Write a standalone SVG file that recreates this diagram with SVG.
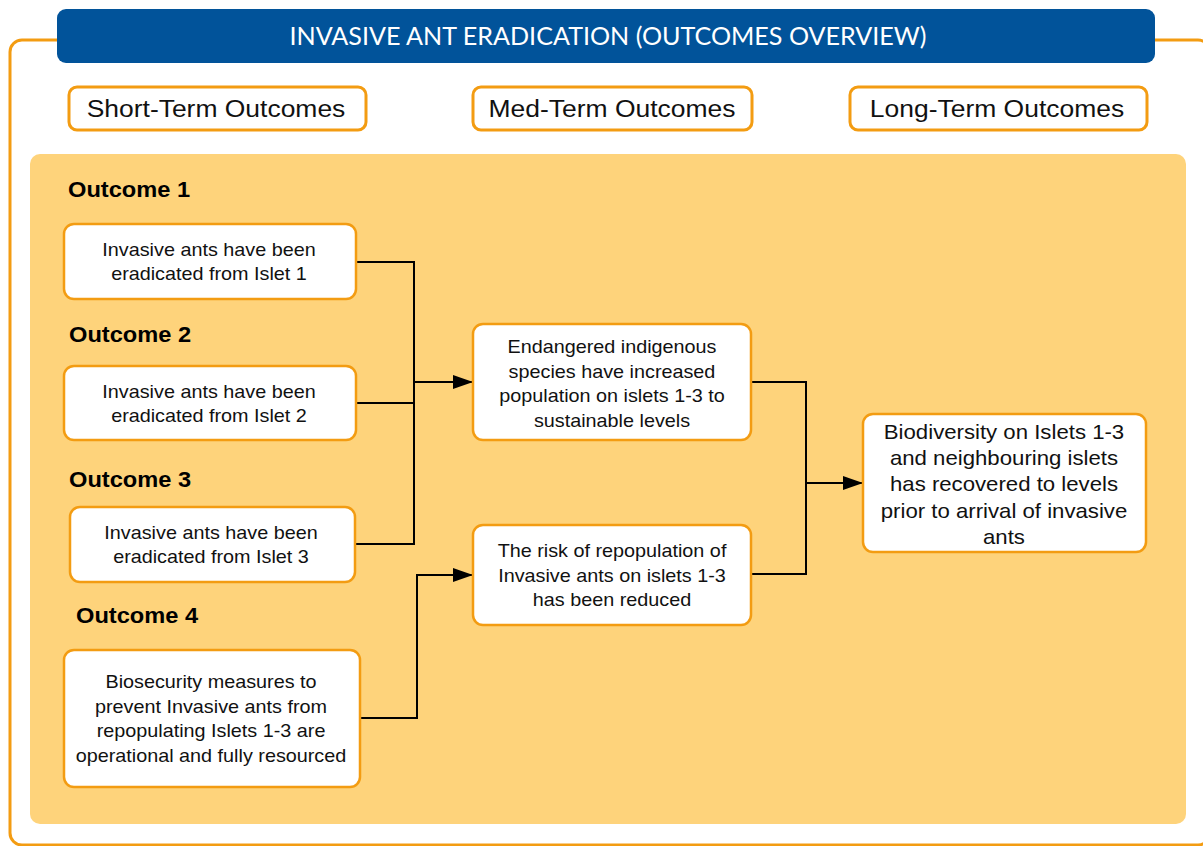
<svg xmlns="http://www.w3.org/2000/svg" width="1203" height="846" viewBox="0 0 1203 846">
  <defs>
    <marker id="arrow" markerWidth="20" markerHeight="14" refX="20" refY="7" orient="auto" markerUnits="userSpaceOnUse">
      <path d="M0,0 L20,7 L0,14 Z" fill="#000"/>
    </marker>
    <style>
      .frame { fill: none; stroke: #F39C12; stroke-width: 3; }
      .head { fill: #fff; stroke: #F39C12; stroke-width: 3; }
      .head-text { font-family: "Liberation Sans", Arial, sans-serif; font-size: 24.5px; fill: #111; text-anchor: middle; }
      .panel { fill: #FED37B; }
      .box { fill: #fff; stroke: #F39C12; stroke-width: 2.5; }
      .box-text { font-family: "Liberation Sans", Arial, sans-serif; font-size: 18px; fill: #111; text-anchor: middle; }
      .big-text { font-family: "Liberation Sans", Arial, sans-serif; font-size: 20px; fill: #111; text-anchor: middle; }
      .lbl { font-family: "Liberation Sans", Arial, sans-serif; font-size: 21.5px; font-weight: bold; fill: #000; }
      .wire { fill: none; stroke: #000; stroke-width: 2; }
    </style>
  </defs>

  <rect width="1203" height="846" fill="#fff"/>

  <!-- outer frame -->
  <rect class="frame" x="10" y="40" width="1200" height="805" rx="12"/>

  <!-- title bar -->
  <g id="title">
    <rect x="57" y="9" width="1098" height="54" rx="9" fill="#01539A"/>
    <text x="608" y="45" font-family="Lato, 'Open Sans', sans-serif" font-size="25" fill="#fff" text-anchor="middle" textLength="637" lengthAdjust="spacingAndGlyphs">INVASIVE ANT ERADICATION (OUTCOMES OVERVIEW)</text>
  </g>

  <!-- column headers -->
  <g id="hdr-short">
    <rect class="head" x="69" y="87" width="297" height="43" rx="8"/>
    <g transform="translate(216 0) scale(1.08 1)"><text class="head-text" x="0" y="117">Short-Term Outcomes</text></g>
  </g>
  <g id="hdr-med">
    <rect class="head" x="473" y="87" width="279" height="43" rx="8"/>
    <g transform="translate(612 0) scale(1.08 1)"><text class="head-text" x="0" y="117">Med-Term Outcomes</text></g>
  </g>
  <g id="hdr-long">
    <rect class="head" x="850" y="87" width="297" height="43" rx="8"/>
    <g transform="translate(997 0) scale(1.08 1)"><text class="head-text" x="0" y="117">Long-Term Outcomes</text></g>
  </g>

  <!-- main panel -->
  <rect class="panel" x="30" y="154" width="1156" height="670" rx="10"/>

  <!-- outcome labels -->
  <g id="labels">
    <g transform="translate(68 0) scale(1.1 1)"><text class="lbl" x="0" y="197">Outcome 1</text></g>
    <g transform="translate(69 0) scale(1.1 1)"><text class="lbl" x="0" y="342">Outcome 2</text></g>
    <g transform="translate(69 0) scale(1.1 1)"><text class="lbl" x="0" y="487">Outcome 3</text></g>
    <g transform="translate(76 0) scale(1.1 1)"><text class="lbl" x="0" y="623">Outcome 4</text></g>
  </g>

  <!-- connectors -->
  <g id="connectors">
    <polyline class="wire" points="356,262 414,262 414,544 355,544"/>
    <line class="wire" x1="356" y1="403" x2="414" y2="403"/>
    <line class="wire" x1="414" y1="382" x2="473" y2="382" marker-end="url(#arrow)"/>
    <polyline class="wire" points="360,718 417,718 417,575 473,575" marker-end="url(#arrow)"/>
    <polyline class="wire" points="751,382 806,382 806,574 751,574"/>
    <line class="wire" x1="806" y1="483" x2="863" y2="483" marker-end="url(#arrow)"/>
  </g>

  <!-- short-term outcomes -->
  <g id="st1">
    <rect class="box" x="64" y="224" width="292" height="75" rx="10"/>
    <g transform="translate(209 0) scale(1.1 1)">
      <text class="box-text" x="0" y="256">Invasive ants have been</text>
      <text class="box-text" x="0" y="280">eradicated from Islet 1</text>
    </g>
  </g>
  <g id="st2">
    <rect class="box" x="64" y="366" width="292" height="74" rx="10"/>
    <g transform="translate(209 0) scale(1.1 1)">
      <text class="box-text" x="0" y="398">Invasive ants have been</text>
      <text class="box-text" x="0" y="422">eradicated from Islet 2</text>
    </g>
  </g>
  <g id="st3">
    <rect class="box" x="70" y="507" width="285" height="75" rx="10"/>
    <g transform="translate(211 0) scale(1.1 1)">
      <text class="box-text" x="0" y="539">Invasive ants have been</text>
      <text class="box-text" x="0" y="563">eradicated from Islet 3</text>
    </g>
  </g>
  <g id="st4">
    <rect class="box" x="64" y="650" width="296" height="137" rx="10"/>
    <g transform="translate(211 0) scale(1.1 1)">
      <text class="box-text" x="0" y="688">Biosecurity measures to</text>
      <text class="box-text" x="0" y="713">prevent Invasive ants from</text>
      <text class="box-text" x="0" y="737">repopulating Islets 1-3 are</text>
      <text class="box-text" x="0" y="762">operational and fully resourced</text>
    </g>
  </g>

  <!-- medium-term outcomes -->
  <g id="mt1">
    <rect class="box" x="473" y="324" width="278" height="116" rx="10"/>
    <g transform="translate(612 0) scale(1.1 1)">
      <text class="box-text" x="0" y="353">Endangered indigenous</text>
      <text class="box-text" x="0" y="378">species have increased</text>
      <text class="box-text" x="0" y="402">population on islets 1-3 to</text>
      <text class="box-text" x="0" y="427">sustainable levels</text>
    </g>
  </g>
  <g id="mt2">
    <rect class="box" x="473" y="525" width="278" height="100" rx="10"/>
    <g transform="translate(612 0) scale(1.1 1)">
      <text class="box-text" x="0" y="557">The risk of repopulation of</text>
      <text class="box-text" x="0" y="582">Invasive ants on islets 1-3</text>
      <text class="box-text" x="0" y="606">has been reduced</text>
    </g>
  </g>

  <!-- long-term outcome -->
  <g id="lt1">
    <rect class="box" x="863" y="414" width="283" height="138" rx="10"/>
    <g transform="translate(1004 0) scale(1.11 1)">
      <text class="big-text" x="0" y="439">Biodiversity on Islets 1-3</text>
      <text class="big-text" x="0" y="465">and neighbouring islets</text>
      <text class="big-text" x="0" y="491">has recovered to levels</text>
      <text class="big-text" x="0" y="518">prior to arrival of invasive</text>
      <text class="big-text" x="0" y="544">ants</text>
    </g>
  </g>
</svg>
